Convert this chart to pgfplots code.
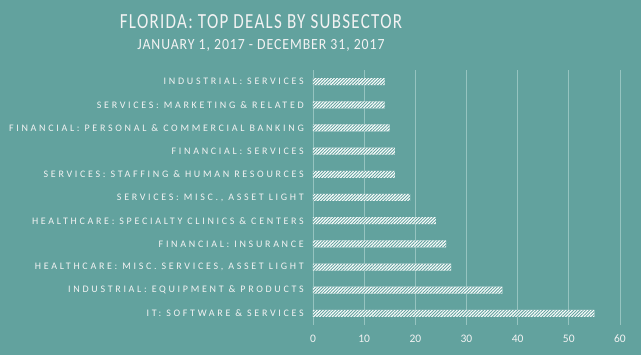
\documentclass[border=0pt]{standalone}
\usepackage{pgfplots}
\pgfplotsset{compat=1.18}
\usepackage{fontspec}
\setmainfont{Carlito}
\newfontfamily\labfont[LetterSpace=27]{Carlito}
\newfontfamily\titfont[LetterSpace=6,FakeStretch=0.79]{Carlito}
\newfontfamily\subfont[LetterSpace=6,FakeStretch=0.89]{Carlito}
\usetikzlibrary{patterns.meta}
\definecolor{bg}{RGB}{98,162,158}
\definecolor{gridc}{RGB}{150,196,192}
\definecolor{txt}{RGB}{243,243,243}
\begin{document}
\begin{tikzpicture}
\fill[bg] (0pt,0pt) rectangle (641pt,355pt);
\useasboundingbox (0pt,0pt) rectangle (641pt,355pt);
\node[text=txt, font=\titfont\fontsize{21.5}{23}\selectfont, inner sep=0pt] at (261pt,333pt) {FLORIDA: TOP DEALS BY SUBSECTOR};
\node[text=txt, font=\subfont\fontsize{15.5}{17}\selectfont, inner sep=0pt] at (261pt,310pt) {JANUARY 1, 2017 - DECEMBER 31, 2017};
\begin{axis}[
  at={(313pt,30pt)}, anchor=south west, scale only axis,
  width=307pt, height=255pt,
  xmin=0, xmax=60, ymin=-0.5, ymax=10.5,
  xbar, bar width=7pt,
  axis line style={draw=none},
  major tick length=0pt,
  xmajorgrids, major grid style={draw=gridc, line width=0.8pt},
  xtick={0,10,...,60},
  ytick={0,...,10},
  yticklabels={IT: SOFTWARE \& SERVICES, INDUSTRIAL: EQUIPMENT \& PRODUCTS, {HEALTHCARE: MISC. SERVICES, ASSET LIGHT}, FINANCIAL: INSURANCE, HEALTHCARE: SPECIALTY CLINICS \& CENTERS, {SERVICES: MISC., ASSET LIGHT}, SERVICES: STAFFING \& HUMAN RESOURCES, FINANCIAL: SERVICES, FINANCIAL: PERSONAL \& COMMERCIAL BANKING, SERVICES: MARKETING \& RELATED, INDUSTRIAL: SERVICES},
  yticklabel style={font=\labfont\fontsize{10}{11}\selectfont, text=txt, inner sep=0pt, anchor=east, xshift=-9pt},
  xticklabel style={font=\fontsize{11.5}{12}\selectfont, text=txt, inner sep=0pt, anchor=center, yshift=-14pt},
  /pgf/number format/assume math mode=true,
  clip=false,
]
\addplot[fill=white, draw=none, postaction={pattern={Lines[angle=45,distance=2.2pt,line width=0.9pt]}, pattern color=bg}]
coordinates {(55,0) (37,1) (27,2) (26,3) (24,4) (19,5) (16,6) (16,7) (15,8) (14,9) (14,10)};
\end{axis}
\end{tikzpicture}
\end{document}
